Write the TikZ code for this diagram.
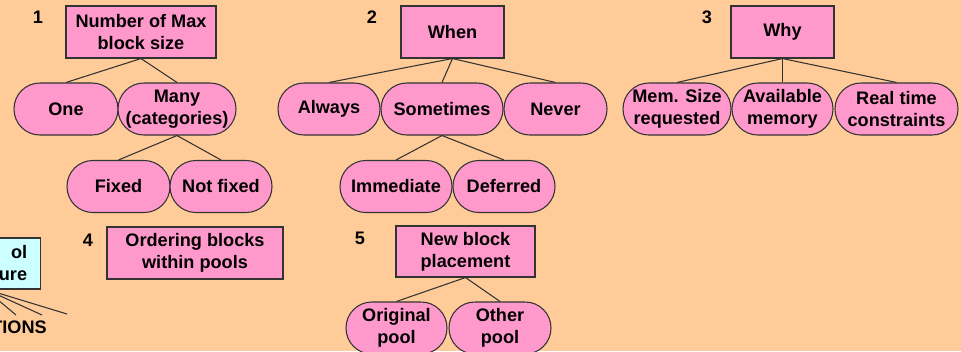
\documentclass[tikz,border=0pt]{standalone}
\usepackage{fontspec}
\setmainfont{Liberation Sans}
\definecolor{slidebg}{HTML}{FFCC99}
\definecolor{boxpink}{HTML}{FF99CC}
\definecolor{boxcyan}{HTML}{CCFFFF}
\definecolor{edgegray}{HTML}{333333}
\tikzset{
  qbox/.style={draw=edgegray,line width=.8pt,fill=boxpink,align=center,inner sep=1pt,minimum height=39pt,font=\fontsize{13.6}{16.5}\selectfont\bfseries},
  optpill/.style={qbox,rounded corners=19.4pt},
  poolbox/.style={draw=edgegray,line width=.8pt,fill=boxcyan,align=right,text width=60pt,inner xsep=10pt,minimum height=38.25pt,font=\fontsize{13.6}{16.5}\selectfont\bfseries},
  numlbl/.style={font=\fontsize{13.6}{16.5}\selectfont\bfseries,inner sep=0pt},
  branch/.style={edgegray,line width=.8pt}
}
\begin{document}
\begin{tikzpicture}[x=0.75pt,y=-0.75pt]
  \fill[slidebg] (0,0) rectangle (961,351);
  \useasboundingbox (0,0) rectangle (961,351);
  \clip (0,0) rectangle (961,351);

  % 1
  \node[numlbl] (n1) at (38,17) {1};
  \node[qbox,minimum width=112.5pt] (maxsize) at (141,32) {Number of Max\\block size};
  \node[optpill,minimum width=78pt] (one) at (66,109) {One};
  \node[optpill,minimum width=88.5pt] (many) at (177,109) {Many\\(categories)};
  \node[optpill,minimum width=77.25pt] (fixed) at (118.5,186.5) {Fixed};
  \node[optpill,minimum width=76.5pt] (notfixed) at (221,186.5) {Not fixed};
  \draw[branch] (maxsize.south)--(one.north);
  \draw[branch] (maxsize.south)--(many.north);
  \draw[branch] (many.south)--(fixed.north);
  \draw[branch] (many.south)--(notfixed.north);

  % 2
  \node[numlbl] (n2) at (372,17) {2};
  \node[qbox,minimum width=77.25pt] (when) at (452.5,32) {When};
  \node[optpill,minimum width=76.5pt] (always) at (329,109) {Always};
  \node[optpill,minimum width=91.5pt] (sometimes) at (442,109) {Sometimes};
  \node[optpill,minimum width=77.25pt] (never) at (555.5,109) {Never};
  \node[optpill,minimum width=84pt] (immediate) at (396,186.5) {Immediate};
  \node[optpill,minimum width=76.5pt] (deferred) at (504,186.5) {Deferred};
  \foreach \c in {always,sometimes,never}
    \draw[branch] (when.south)--(\c.north);
  \draw[branch] (sometimes.south)--(immediate.north);
  \draw[branch] (sometimes.south)--(deferred.north);

  % 3
  \node[numlbl] (n3) at (707,17) {3};
  \node[qbox,minimum width=77.25pt] (why) at (782.5,32) {Why};
  \node[optpill,minimum width=81pt] (memsize) at (677,109) {Mem. Size\\requested};
  \node[optpill,minimum width=75.75pt] (availmem) at (782.5,109) {Available\\memory};
  \node[optpill,minimum width=92.25pt] (realtime) at (896.5,109) {Real time\\constraints};
  \foreach \c in {memsize,availmem,realtime}
    \draw[branch] (why.south)--(\c.north);

  % 4
  \node[numlbl] (n4) at (88,240) {4};
  \node[qbox,minimum width=132pt] (ordering) at (195,253) {Ordering blocks\\within pools};

  % 5
  \node[numlbl] (n5) at (360,238) {5};
  \node[qbox,minimum width=104.25pt,minimum height=38.25pt] (newblock) at (465.5,251.5) {New block\\placement};
  \node[optpill,minimum width=75.75pt] (origpool) at (396.5,328) {Original\\pool};
  \node[optpill,minimum width=76.5pt] (otherpool) at (500,328) {Other\\pool};
  \draw[branch] (newblock.south)--(origpool.north);
  \draw[branch] (newblock.south)--(otherpool.north);

  % cut-off part at the left edge
  \node[poolbox,anchor=east] (pool) at (41,263.5) {ol\hspace{3.75pt}\\ure};
  \coordinate (op1) at (16,315);
  \coordinate (op2) at (42,315);
  \coordinate (op3) at (67,314);
  \coordinate (poolfoot) at (-15,289);
  \foreach \c in {op1,op2,op3}
    \draw[branch] (poolfoot)--(\c);
  \node[numlbl,anchor=east] (ops) at (47,327) {TIONS};
\end{tikzpicture}
\end{document}
